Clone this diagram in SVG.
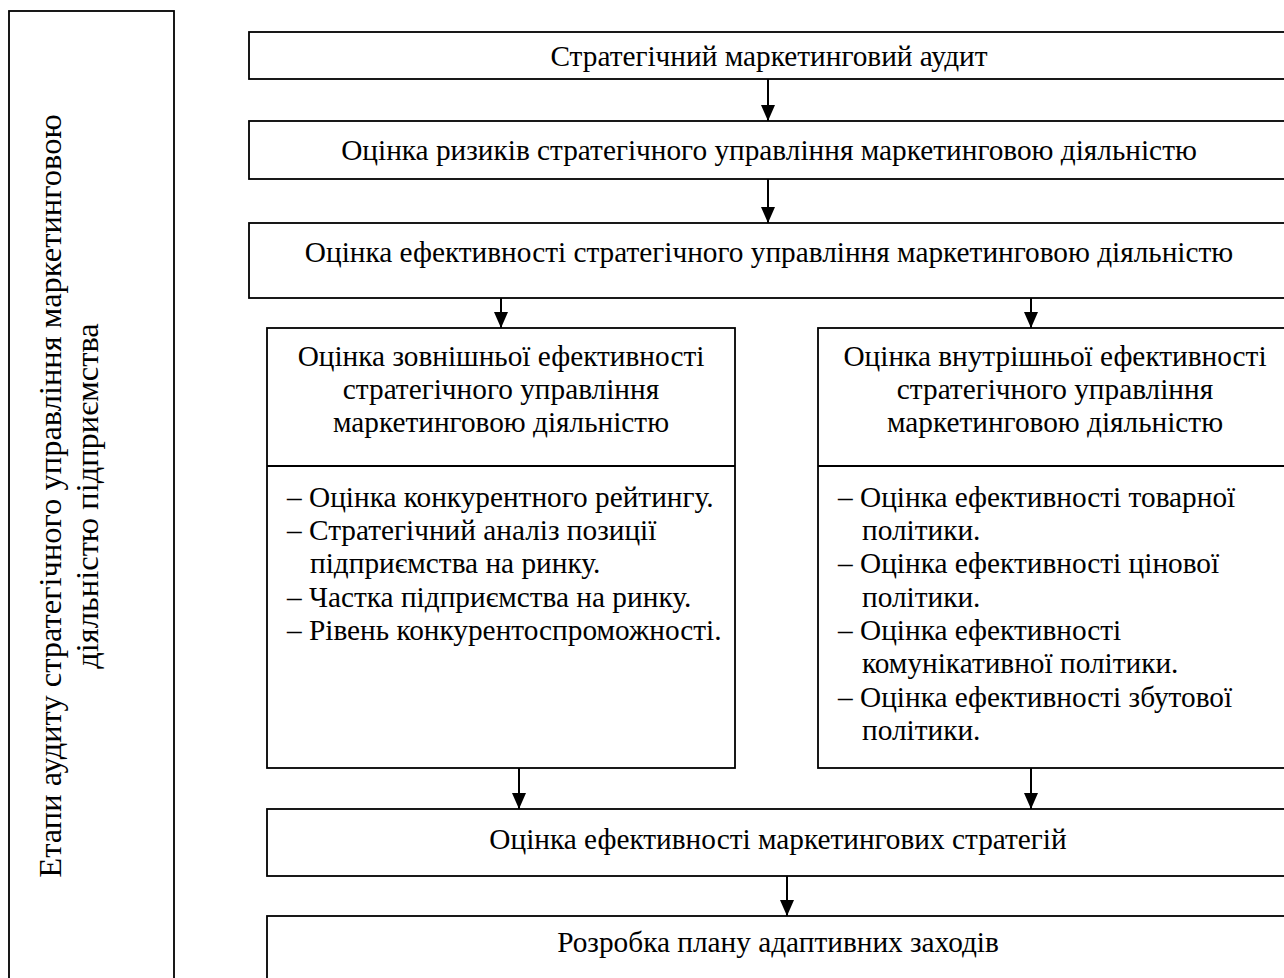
<svg xmlns="http://www.w3.org/2000/svg" width="1284" height="978" viewBox="0 0 1284 978">
<style>
.box{fill:#fff;stroke:#000;stroke-width:1.8}
.t{font-family:"Liberation Serif","Times New Roman",serif;font-size:29.3px;fill:#000}
.v{font-size:32.5px}
.c{text-anchor:middle}
.conn line{stroke:#000;stroke-width:2}
</style>
<defs>
<marker id="ah" markerWidth="16" markerHeight="14" refX="16" refY="7" orient="auto" markerUnits="userSpaceOnUse" viewBox="0 0 16 14">
<path d="M0,0 L16,7 L0,14 Z" fill="#000"/>
</marker>
</defs>
<rect width="1284" height="978" fill="#fff"/>
<g id="stages">
<rect class="box" x="9" y="11" width="165" height="1000"/>
<text class="t v c" transform="translate(61,496) rotate(-90)">Етапи аудиту стратегічного управління маркетинговою</text>
<text class="t v c" transform="translate(98,496) rotate(-90)">діяльністю підприємства</text>
</g>
<g id="audit">
<rect class="box" x="249" y="32" width="1045" height="47"/>
<text class="t c" x="769" y="66">Стратегічний маркетинговий аудит</text>
</g>
<g id="risks">
<rect class="box" x="249" y="121" width="1045" height="58"/>
<text class="t c" x="769" y="160">Оцінка ризиків стратегічного управління маркетинговою діяльністю</text>
</g>
<g id="efficiency">
<rect class="box" x="249" y="223" width="1045" height="75"/>
<text class="t c" x="769" y="262">Оцінка ефективності стратегічного управління маркетинговою діяльністю</text>
</g>
<g id="external">
<rect class="box" x="267" y="328" width="468" height="440"/>
<line x1="267" y1="466" x2="735" y2="466" stroke="#000" stroke-width="1.8"/>
<text class="t c" x="501" y="366">Оцінка зовнішньої ефективності</text>
<text class="t c" x="501" y="399">стратегічного управління</text>
<text class="t c" x="501" y="432">маркетинговою діяльністю</text>
<text class="t" x="287" y="507">– Оцінка конкурентного рейтингу.</text>
<text class="t" x="287" y="540">– Стратегічний аналіз позиції</text>
<text class="t" x="310" y="573">підприємства на ринку.</text>
<text class="t" x="287" y="607">– Частка підприємства на ринку.</text>
<text class="t" x="287" y="640">– Рівень конкурентоспроможності.</text>
</g>
<g id="internal">
<rect class="box" x="818" y="328" width="480" height="440"/>
<line x1="818" y1="466" x2="1290" y2="466" stroke="#000" stroke-width="1.8"/>
<text class="t c" x="1055" y="366">Оцінка внутрішньої ефективності</text>
<text class="t c" x="1055" y="399">стратегічного управління</text>
<text class="t c" x="1055" y="432">маркетинговою діяльністю</text>
<text class="t" x="838" y="507">– Оцінка ефективності товарної</text>
<text class="t" x="862" y="540">політики.</text>
<text class="t" x="838" y="573">– Оцінка ефективності цінової</text>
<text class="t" x="862" y="607">політики.</text>
<text class="t" x="838" y="640">– Оцінка ефективності</text>
<text class="t" x="862" y="673">комунікативної політики.</text>
<text class="t" x="838" y="707">– Оцінка ефективності збутової</text>
<text class="t" x="862" y="740">політики.</text>
</g>
<g id="strategies">
<rect class="box" x="267" y="809" width="1030" height="67"/>
<text class="t c" x="778" y="849">Оцінка ефективності маркетингових стратегій</text>
</g>
<g id="plan">
<rect class="box" x="267" y="916" width="1030" height="100"/>
<text class="t c" x="778" y="952">Розробка плану адаптивних заходів</text>
</g>
<g id="connectors" class="conn">
<line x1="768" y1="79" x2="768" y2="121" marker-end="url(#ah)"/>
<line x1="768" y1="179" x2="768" y2="223" marker-end="url(#ah)"/>
<line x1="501" y1="298" x2="501" y2="328" marker-end="url(#ah)"/>
<line x1="1031" y1="298" x2="1031" y2="328" marker-end="url(#ah)"/>
<line x1="519" y1="768" x2="519" y2="809" marker-end="url(#ah)"/>
<line x1="1031" y1="768" x2="1031" y2="809" marker-end="url(#ah)"/>
<line x1="787" y1="876" x2="787" y2="916" marker-end="url(#ah)"/>
</g>
</svg>
